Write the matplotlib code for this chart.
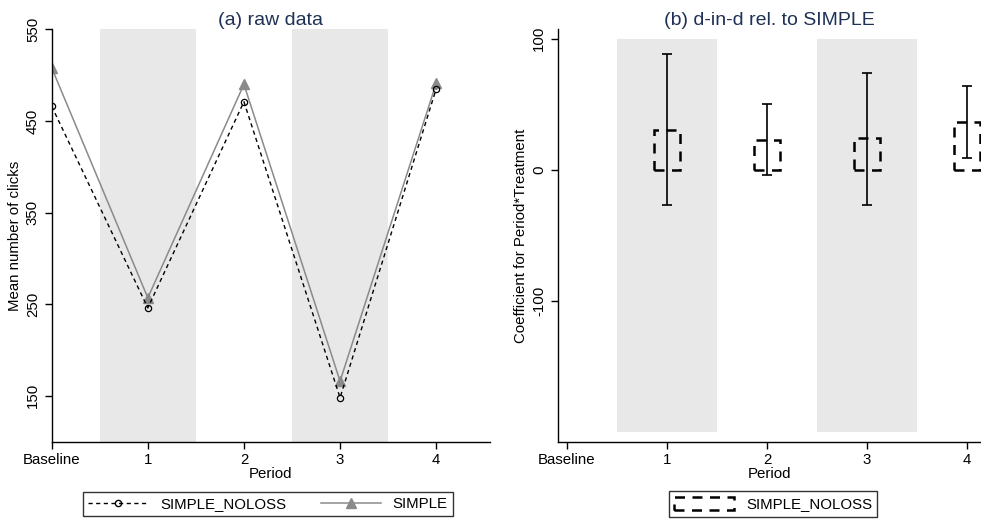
import numpy as np
import matplotlib
matplotlib.use("Agg")
import matplotlib.pyplot as plt
from matplotlib.lines import Line2D
from matplotlib.patches import Rectangle

matplotlib.rcParams['font.family'] = ['Liberation Sans', 'DejaVu Sans']
matplotlib.rcParams['axes.unicode_minus'] = False

# data
periods = ["Baseline", "1", "2", "3", "4"]
period_x = [0, 1, 2, 3, 4]
noloss_clicks = [466, 246, 471, 148, 485]
simple_clicks = [508, 257, 490, 166, 491]

coef_x = [1, 2, 3, 4]
coef = [30.5, 23, 24, 36.5]
ci_low = [-27, -4, -26.5, 9]
ci_high = [88, 50, 74, 64]

shade_periods = [1, 3]

title_col = '#1f3154'
shade_col = '#e8e8e8'
fs = 10.8

fig = plt.figure(figsize=(9.81, 5.20), dpi=100)
ax1 = fig.add_axes([0.0527, 0.1506, 0.4468, 0.793])
ax2 = fig.add_axes([0.5685, 0.1506, 0.4315, 0.793])

# ---- (a) raw data
for p in shade_periods:
    ax1.axvspan(p - 0.5, p + 0.5, color=shade_col, lw=0, zorder=0)
ax1.plot(period_x, simple_clicks, color='#8a8a8a', lw=1.1, marker='^',
         ms=7, mfc='#8a8a8a', mec='#8a8a8a', zorder=2)
ax1.plot(period_x, noloss_clicks, color='black', lw=1.0, ls=(0, (3, 2.5)),
         marker='o', ms=4.5, mfc='none', mec='black', mew=0.9, zorder=3)
ax1.set_xlim(0, 4.56)
ax1.set_ylim(100, 550)
ax1.set_yticks([150, 250, 350, 450, 550])
ax1.set_ylabel("Mean number of clicks", fontsize=fs, labelpad=3)
ax1.set_title("(a) raw data", fontsize=14, color=title_col, pad=3)

# ---- (b) d-in-d
for p in shade_periods:
    ax2.add_patch(Rectangle((p - 0.5, -200), 1.0, 300, color=shade_col,
                            lw=0, zorder=0))
bw = 0.26
for x, c in zip(coef_x, coef):
    ax2.add_patch(Rectangle((x - bw / 2, 0), bw, c, fill=False,
                            ec='black', lw=1.8, ls=(0, (4, 3)), zorder=2))
err = [np.array(coef) - np.array(ci_low), np.array(ci_high) - np.array(coef)]
ax2.errorbar(coef_x, coef, yerr=err, fmt='none', ecolor='black',
             elinewidth=1.2, capsize=3.5, capthick=1.2, zorder=3)
ax2.set_xlim(-0.093, 4.14)
ax2.set_ylim(-207, 107)
ax2.set_yticks([-100, 0, 100])
ax2.set_ylabel("Coefficient for Period*Treatment", fontsize=fs, labelpad=3)
ax2.set_title("(b) d-in-d rel. to SIMPLE", fontsize=14, color=title_col,
              pad=3)

for ax in (ax1, ax2):
    ax.set_xticks(period_x)
    ax.set_xticklabels(periods)
    ax.set_xlabel("Period", fontsize=fs, labelpad=0)
    for s in ('top', 'right'):
        ax.spines[s].set_visible(False)
    ax.spines['left'].set_linewidth(1.0)
    ax.spines['bottom'].set_linewidth(1.0)
    ax.tick_params(direction='out', length=5, width=1.0, labelsize=fs)
    for lab in ax.get_yticklabels():
        lab.set_rotation(90)
        lab.set_va('center')

# legends
h1 = [Line2D([], [], color='black', lw=1.0, ls=(0, (3, 2.5)), marker='o',
             ms=4.5, mfc='none', mec='black'),
      Line2D([], [], color='#8a8a8a', lw=1.1, marker='^', ms=7,
             mfc='#8a8a8a', mec='#8a8a8a')]
leg1 = fig.legend(h1, ["SIMPLE_NOLOSS", "SIMPLE"], loc='center',
                  bbox_to_anchor=(268 / 981, 1 - 504 / 520), ncol=2,
                  fontsize=fs, frameon=True, fancybox=False, edgecolor='black',
                  handlelength=4.0, columnspacing=2.3, borderpad=0.35)
leg1.get_frame().set_linewidth(1.0)

h2 = [Rectangle((0, 0), 1, 1, fill=False, ec='black', lw=1.8,
                ls=(0, (4, 3)))]
leg2 = fig.legend(h2, ["SIMPLE_NOLOSS"], loc='center',
                  bbox_to_anchor=(773 / 981, 1 - 504 / 520), fontsize=fs,
                  frameon=True, fancybox=False, edgecolor='black',
                  handlelength=4.0, handleheight=1.0, borderpad=0.35)
leg2.get_frame().set_linewidth(1.0)

plt.savefig("out.png", dpi=100)
